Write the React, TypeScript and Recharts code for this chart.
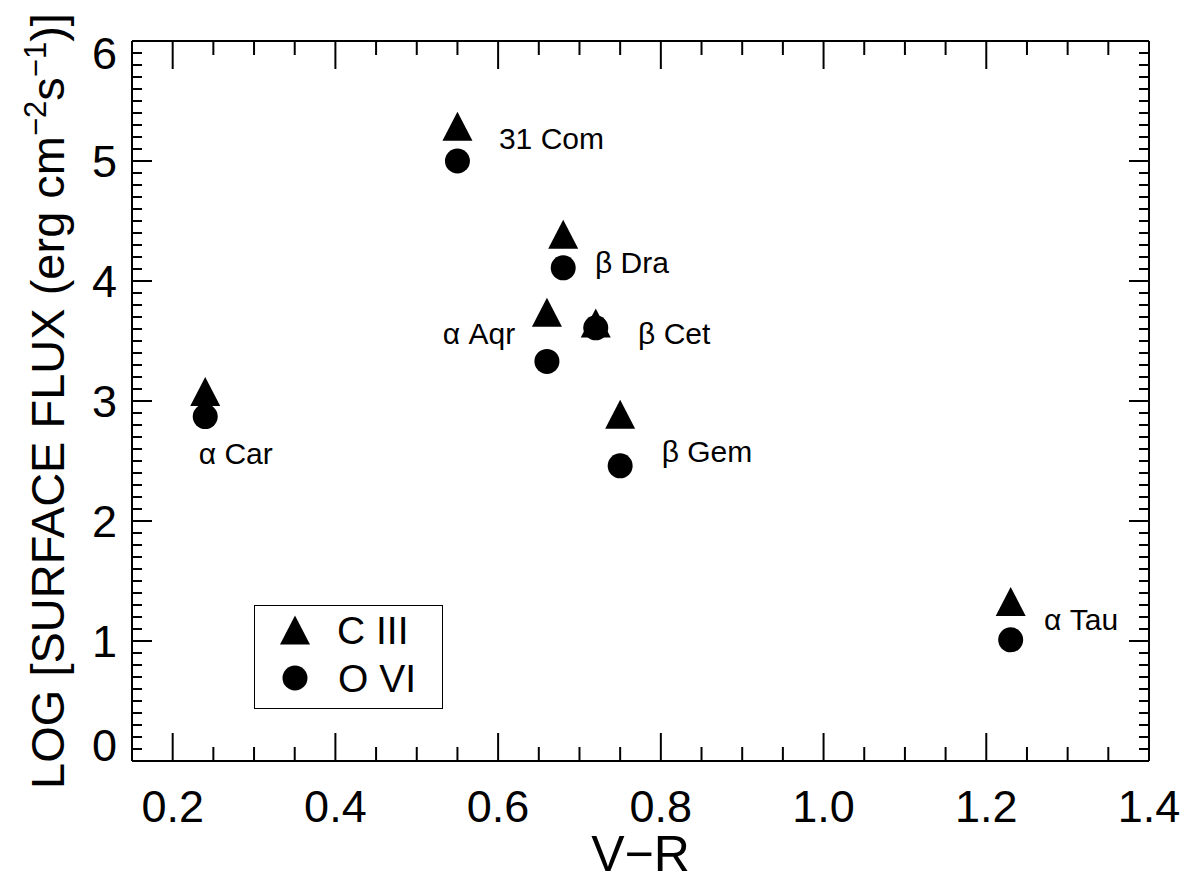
import React from 'react';
import { ScatterChart, Scatter, XAxis, YAxis } from 'recharts';

// ---- data ----
const stars = ['α Car', '31 Com', 'β Dra', 'α Aqr', 'β Cet', 'β Gem', 'α Tau'];
const vrColor = [0.24, 0.55, 0.68, 0.66, 0.72, 0.75, 1.23];
const fluxCIII = [3.08, 5.29, 4.39, 3.74, 3.65, 2.89, 1.33];
const fluxOVI = [2.87, 5.0, 4.11, 3.33, 3.61, 2.46, 1.01];
// label anchors (data coordinates, left/baseline)
const labelX = [0.232, 0.601, 0.719, 0.532, 0.772, 0.801, 1.271];
const labelY = [2.475, 5.1, 4.067, 3.475, 3.475, 2.494, 1.092];

const xMajorTicks = [0.2, 0.4, 0.6, 0.8, 1.0, 1.2, 1.4];
const xTickLabels = ['0.2', '0.4', '0.6', '0.8', '1.0', '1.2', '1.4'];
const yMajorTicks = [0, 1, 2, 3, 4, 5, 6];
const yTickLabels = ['0', '1', '2', '3', '4', '5', '6'];
const xDomain: [number, number] = [0.15, 1.4];
const yDomain: [number, number] = [0, 6];
const xMinorStep = 0.05;
const yMinorStep = 0.1;

const legendNames = ['C III', 'O VI'];
const xTitle = 'V\u2212R';

// ---- derived ----
const xTicks: number[] = [];
for (let k = Math.round(0.2 / xMinorStep); k <= Math.round(xDomain[1] / xMinorStep); k++) {
  xTicks.push(Math.round(k * xMinorStep * 1000) / 1000);
}
const yTicks: number[] = [];
for (let k = 0; k <= Math.round(yDomain[1] / yMinorStep); k++) {
  yTicks.push(Math.round(k * yMinorStep * 1000) / 1000);
}

const c3Data = vrColor.map((x, i) => ({ x, y: fluxCIII[i], name: stars[i] }));
const o6Data = vrColor.map((x, i) => ({ x, y: fluxOVI[i], name: stars[i] }));
const labelData = stars.map((name, i) => ({ x: labelX[i], y: labelY[i], name }));

const FONT = '"Liberation Sans", Arial, Helvetica, sans-serif';
const W = 1202;
const H = 879;

const majorIndex = (v: number, arr: number[]) => arr.findIndex((m) => Math.abs(m - v) < 1e-6);

const BottomTick = (p: any) => {
  const v = p.payload.value;
  const mi = majorIndex(v, xMajorTicks);
  const len = mi >= 0 ? 28 : 14;
  return (
    <g>
      <line x1={p.x} x2={p.x} y1={p.y} y2={p.y - len} stroke="#000" strokeWidth={2} />
      {mi >= 0 && (
        <text x={p.x} y={p.y + 61} textAnchor="middle" fontSize={45} fontFamily={FONT} fill="#000">
          {xTickLabels[mi]}
        </text>
      )}
    </g>
  );
};

const TopTick = (p: any) => {
  const v = p.payload.value;
  const mi = majorIndex(v, xMajorTicks);
  const len = mi >= 0 ? 28 : 14;
  return <line x1={p.x} x2={p.x} y1={p.y} y2={p.y + len} stroke="#000" strokeWidth={2} />;
};

const LeftTick = (p: any) => {
  const v = p.payload.value;
  const mi = majorIndex(v, yMajorTicks);
  const len = mi >= 0 ? 20 : 10;
  let shift = 0;
  if (mi === 0) shift = -16;
  if (mi === yMajorTicks.length - 1) shift = 12;
  return (
    <g>
      <line x1={p.x} x2={p.x + len} y1={p.y} y2={p.y} stroke="#000" strokeWidth={2} />
      {mi >= 0 && (
        <text x={p.x - 15} y={p.y + 16 + shift} textAnchor="end" fontSize={45} fontFamily={FONT} fill="#000">
          {yTickLabels[mi]}
        </text>
      )}
    </g>
  );
};

const RightTick = (p: any) => {
  const v = p.payload.value;
  const mi = majorIndex(v, yMajorTicks);
  const len = mi >= 0 ? 20 : 10;
  return <line x1={p.x} x2={p.x - len} y1={p.y} y2={p.y} stroke="#000" strokeWidth={2} />;
};

const Triangle = (p: any) => {
  const { cx, cy } = p;
  if (cx == null || cy == null) return null;
  return <polygon points={`${cx},${cy - 14.5} ${cx - 15},${cy + 14.5} ${cx + 15},${cy + 14.5}`} fill="#000" />;
};

const Dot = (p: any) => {
  const { cx, cy } = p;
  if (cx == null || cy == null) return null;
  return <circle cx={cx} cy={cy} r={12.5} fill="#000" />;
};

const StarLabel = (p: any) => {
  const { cx, cy, payload } = p;
  if (cx == null || cy == null) return null;
  return (
    <text x={cx} y={cy} fontSize={30} fontFamily={FONT} fill="#000">
      {payload.name}
    </text>
  );
};

const LegendBox = () => (
  <svg width={189} height={104} style={{ display: 'block' }}>
    <rect x={0.5} y={0.5} width={188} height={103} fill="#fff" stroke="#000" strokeWidth={1} />
    <polygon points={`41,10.5 26,39.5 56,39.5`} fill="#000" />
    <text x={83} y={39} fontSize={39} fontFamily={FONT} fill="#000">{legendNames[0]}</text>
    <circle cx={41} cy={73} r={12.5} fill="#000" />
    <text x={84} y={87} fontSize={39} fontFamily={FONT} fill="#000">{legendNames[1]}</text>
  </svg>
);

const YTitle = (props: any) => {
  const vb = props.viewBox || { x: 131, y: 41, width: 1, height: 720 };
  const x = vb.x + vb.width - 68;
  const y = vb.y + vb.height / 2;
  return (
    <text
      x={x}
      y={y}
      transform={`rotate(-90, ${x}, ${y})`}
      textAnchor="middle"
      fontSize={47}
      fontFamily={FONT}
      fill="#000"
    >
      <tspan>LOG [SURFACE FLUX (erg cm</tspan>
      <tspan fontSize={31} dy={-18}>{'\u22122'}</tspan>
      <tspan dy={18}>s</tspan>
      <tspan fontSize={31} dy={-18}>{'\u22121'}</tspan>
      <tspan dy={18}>)]</tspan>
    </text>
  );
};

const XTitle = (props: any) => {
  const vb = props.viewBox || { x: 132, y: 761, width: 1017, height: 1 };
  return (
    <text x={vb.x + vb.width / 2} y={vb.y + 110} textAnchor="middle" fontSize={50} fontFamily={FONT} fill="#000">
      {xTitle}
    </text>
  );
};

export default function App() {
  return (
    <div style={{ width: W, height: H, background: '#fff', position: 'relative' }}>
      <style>{`body{margin:0;overflow:hidden;background:#fff}`}</style>
      <ScatterChart width={W} height={H} margin={{ top: 40, left: 131, right: 52, bottom: 117 }}>
        <XAxis
          xAxisId="b"
          type="number"
          dataKey="x"
          domain={xDomain}
          ticks={xTicks}
          interval={0}
          allowDataOverflow
          height={1}
          tickSize={0}
          tickMargin={0}
          tickLine={false}
          axisLine={{ stroke: '#000', strokeWidth: 2 }}
          tick={<BottomTick />}
          label={<XTitle />}
        />
        <XAxis
          xAxisId="t"
          orientation="top"
          type="number"
          dataKey="x"
          domain={xDomain}
          ticks={xTicks}
          interval={0}
          allowDataOverflow
          height={1}
          tickSize={0}
          tickMargin={0}
          tickLine={false}
          axisLine={{ stroke: '#000', strokeWidth: 2 }}
          tick={<TopTick />}
        />
        <YAxis
          yAxisId="l"
          type="number"
          dataKey="y"
          domain={yDomain}
          ticks={yTicks}
          interval={0}
          allowDataOverflow
          width={1}
          tickSize={0}
          tickMargin={0}
          tickLine={false}
          axisLine={{ stroke: '#000', strokeWidth: 2 }}
          tick={<LeftTick />}
          label={<YTitle />}
        />
        <YAxis
          yAxisId="r"
          orientation="right"
          type="number"
          dataKey="y"
          domain={yDomain}
          ticks={yTicks}
          interval={0}
          allowDataOverflow
          width={1}
          tickSize={0}
          tickMargin={0}
          tickLine={false}
          axisLine={{ stroke: '#000', strokeWidth: 2 }}
          tick={<RightTick />}
        />
        <Scatter xAxisId="b" yAxisId="l" name="labels" data={labelData} shape={<StarLabel />} isAnimationActive={false} legendType="none" />
        <Scatter xAxisId="b" yAxisId="l" name="C III" data={c3Data} shape={<Triangle />} isAnimationActive={false} />
        <Scatter xAxisId="b" yAxisId="l" name="O VI" data={o6Data} shape={<Dot />} isAnimationActive={false} />
      </ScatterChart>
      <div style={{ position: 'absolute', left: 254, top: 605 }}>
        <LegendBox />
      </div>
    </div>
  );
}
